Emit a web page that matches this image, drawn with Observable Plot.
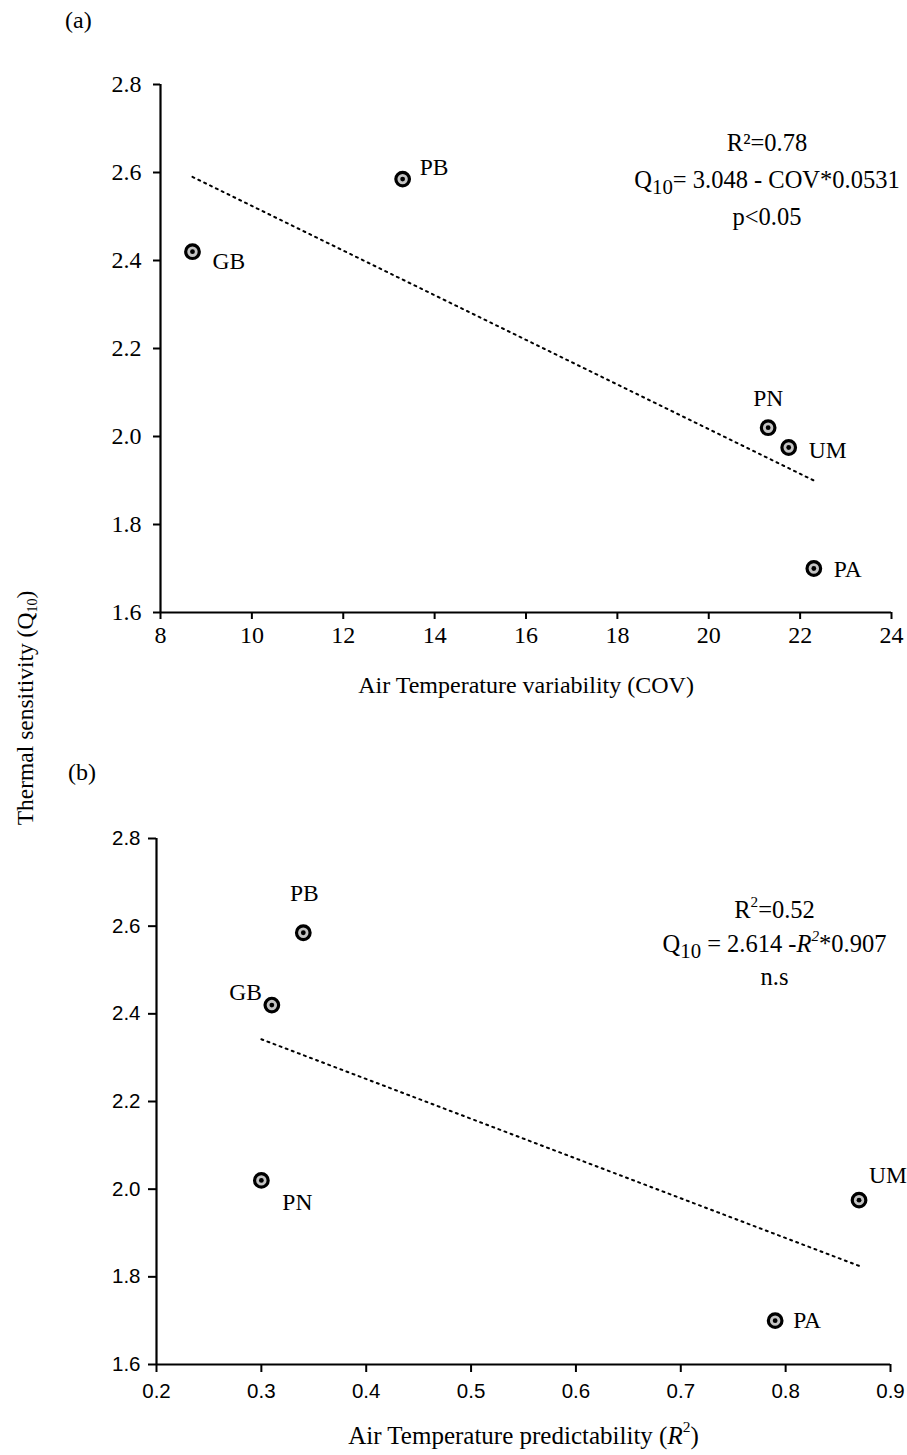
<!DOCTYPE html>
<html><head><meta charset="utf-8">
<script src="https://cdn.jsdelivr.net/npm/d3@7"></script>
<script src="https://cdn.jsdelivr.net/npm/@observablehq/plot@0.6"></script>
<style>
body{margin:0;background:#fff;}
#fig{position:relative;width:907px;height:1455px;background:#fff;font-family:"Liberation Serif","Times New Roman",serif;color:#000;overflow:hidden}
.pan{position:absolute;left:0}
.tag{position:absolute;font-size:24px;line-height:1}
#ylab{position:absolute;left:26px;top:708px;transform:translate(-50%,-50%) rotate(-90deg);font-size:23.5px;white-space:nowrap;line-height:1}
#ylab sub{font-size:60%;vertical-align:-0.3em;line-height:0}
</style></head><body>
<div id="fig">
  <div id="pa" class="pan" style="top:0"></div>
  <div id="pb" class="pan" style="top:720px"></div>
  <div class="tag" style="left:65px;top:8px">(a)</div>
  <div class="tag" style="left:68px;top:760px">(b)</div>
  <div id="ylab">Thermal sensitivity (Q<sub>10</sub>)</div>
</div>
<script>
// ---- data ----
const sites = ["GB", "PB", "PN", "UM", "PA"];
const q10 = [2.42, 2.585, 2.02, 1.975, 1.70];
const airCOV = [8.7, 13.3, 21.3, 21.75, 22.3];
const airPred = [0.31, 0.34, 0.30, 0.87, 0.79];
const fitCOV = [8.7, 22.3];
const fitQ10a = [2.59, 1.90];
const fitPred = [0.30, 0.87];
const fitQ10b = [2.342, 1.825];
const covTicks = [8, 10, 12, 14, 16, 18, 20, 22, 24];
const predTicks = [0.2, 0.3, 0.4, 0.5, 0.6, 0.7, 0.8, 0.9];
const q10Ticks = [1.6, 1.8, 2.0, 2.2, 2.4, 2.6, 2.8];
const annoA = ["R²=0.78", "Q_{10}= 3.048 - COV*0.0531", "p<0.05"];
const annoB = ["R^{2}=0.52", "Q_{10} = 2.614 -~{R^{2}}*0.907", "n.s"];
const xLabelA = "Air Temperature variability (COV)";
const xLabelB = "Air Temperature predictability (~{R}^{2})";

// ---- label placement (style) ----
const labA = {GB: [20, 10, "start"], PB: [17, -12, "start"], PN: [0, -29, "middle"], UM: [20, 3, "start"], PA: [20, 1, "start"]};
const labB = {GB: [-10, -13, "end"], PB: [1, -39, "middle"], PN: [21, 22, "start"], UM: [29, -25, "middle"], PA: [18, 0, "start"]};

const serif = "Liberation Serif, Times New Roman, serif";
const sans = "Liberation Sans, Arial, sans-serif";

const ptsA = sites.map((s, i) => ({site: s, x: airCOV[i], y: q10[i]}));
const ptsB = sites.map((s, i) => ({site: s, x: airPred[i], y: q10[i]}));
const fitA = fitCOV.map((x, i) => ({x, y: fitQ10a[i]}));
const fitB = fitPred.map((x, i) => ({x, y: fitQ10b[i]}));

function siteLabels(pts, lab) {
  return pts.map(p => Plot.text([p], {
    x: "x", y: "y", text: "site", dx: lab[p.site][0], dy: lab[p.site][1],
    textAnchor: lab[p.site][2], fontSize: 23.5, fontFamily: serif, fill: "black"
  }));
}
function annotation(lines, dx, dy0, gap, fs) {
  return lines.map((l, i) => Plot.text([l], {
    frameAnchor: "top", text: d => d, dx, dy: dy0 + i * gap, lineAnchor: "middle",
    fontSize: fs, fontFamily: serif, fill: "black"
  }));
}
function pointMarks(pts) {
  return [
    Plot.dot(pts, {x: "x", y: "y", r: 6.8, fill: "#c4c4c4", stroke: "black", strokeWidth: 3.2}),
    Plot.dot(pts, {x: "x", y: "y", r: 2.4, fill: "black"})
  ];
}

const A = Plot.plot({
  width: 907, height: 720,
  marginTop: 84, marginBottom: 108, marginLeft: 160, marginRight: 16,
  style: {background: "white", color: "black", fontFamily: serif, fontSize: "22px", overflow: "visible"},
  x: {domain: [8, 24]},
  y: {domain: [1.6, 2.8]},
  marks: [
    Plot.axisY({ticks: q10Ticks, tickFormat: d3.format(".1f"), tickSize: 7, tickPadding: 12, strokeWidth: 2, fontSize: 24, fontFamily: serif, label: null}),
    Plot.axisX({ticks: covTicks, tickFormat: d3.format("d"), tickSize: 7, tickPadding: 6, strokeWidth: 2, fontSize: 24, fontFamily: serif, label: null}),
    Plot.ruleX([8], {strokeWidth: 2.2}),
    Plot.ruleY([1.6], {strokeWidth: 2.2}),
    Plot.line(fitA, {x: "x", y: "y", stroke: "black", strokeWidth: 2, strokeDasharray: "2,4.5"}),
    ...pointMarks(ptsA),
    ...siteLabels(ptsA, labA),
    ...annotation(annoA, 241, 59, 37, 24.5),
    Plot.text([xLabelA], {frameAnchor: "bottom", text: d => d, dy: 73, lineAnchor: "middle", fontSize: 24, fontFamily: serif, fill: "black"})
  ]
});

const B = Plot.plot({
  width: 907, height: 735,
  marginTop: 118, marginBottom: 91, marginLeft: 156, marginRight: 17,
  style: {background: "white", color: "black", fontFamily: serif, fontSize: "22px", overflow: "visible"},
  x: {domain: [0.2, 0.9]},
  y: {domain: [1.6, 2.8]},
  marks: [
    Plot.axisY({ticks: q10Ticks, tickFormat: d3.format(".1f"), tickSize: 8, tickPadding: 8, strokeWidth: 2, fontSize: 20.5, fontFamily: sans, label: null}),
    Plot.axisX({ticks: predTicks, tickFormat: d3.format(".1f"), tickSize: 8, tickPadding: 11, strokeWidth: 2, fontSize: 20.5, fontFamily: sans, label: null}),
    Plot.ruleX([0.2], {strokeWidth: 2.2}),
    Plot.ruleY([1.6], {strokeWidth: 2.2}),
    Plot.line(fitB, {x: "x", y: "y", stroke: "black", strokeWidth: 2, strokeDasharray: "2,4.5"}),
    ...pointMarks(ptsB),
    ...siteLabels(ptsB, labB),
    ...annotation(annoB, 251, 72, 33.5, 24.5),
    Plot.text([xLabelB], {frameAnchor: "bottom", text: d => d, dy: 71, lineAnchor: "middle", fontSize: 25, fontFamily: serif, fill: "black"})
  ]
});

document.getElementById("pa").appendChild(A);
document.getElementById("pb").appendChild(B);

// rich text: _{sub} ^{sup} ~{italic}
function runs(s) {
  const out = [], st = []; let buf = "";
  const flush = () => { if (buf) { out.push({t: buf, sub: st.includes("_"), sup: st.includes("^"), it: st.includes("~")}); buf = ""; } };
  for (let i = 0; i < s.length; i++) {
    const c = s[i];
    if ((c === "_" || c === "^" || c === "~") && s[i + 1] === "{") { flush(); st.push(c); i++; }
    else if (c === "}" && st.length) { flush(); st.pop(); }
    else buf += c;
  }
  flush();
  return out;
}
function richify(svg) {
  d3.select(svg).selectAll("text").each(function () {
    const s = this.textContent;
    if (!/[_^~]\{/.test(s)) return;
    const fs = parseFloat(getComputedStyle(this).fontSize) || 22;
    const sel = d3.select(this);
    sel.text(null);
    let cur = 0;
    runs(s).forEach(r => {
      const target = r.sub ? 0.25 * fs : r.sup ? -0.45 * fs : 0;
      const t = sel.append("tspan").text(r.t);
      if (target !== cur) t.attr("dy", target - cur);
      cur = target;
      if (r.sub) t.attr("font-size", 0.85 * fs);
      if (r.sup) t.attr("font-size", 0.62 * fs);
      if (r.it) t.attr("font-style", "italic");
    });
  });
}
richify(A);
richify(B);
</script>
</body></html>
